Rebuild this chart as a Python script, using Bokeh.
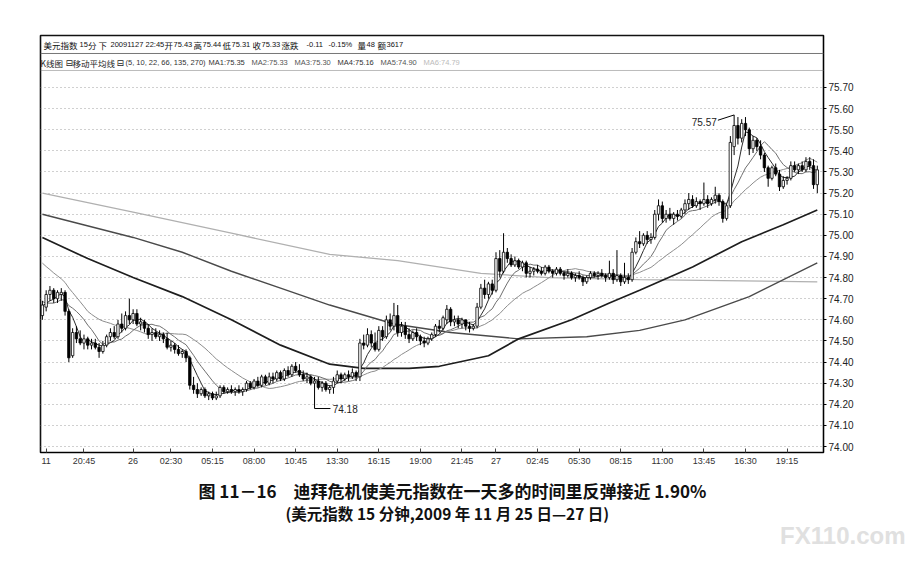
import pandas as pd
from bokeh.plotting import figure
from bokeh.models import Range1d, FixedTicker, Label, Span, ColumnDataSource, NumeralTickFormatter, Title
from bokeh.embed import file_html
from bokeh.resources import INLINE

# ---- 15-minute bars, 2009-11-25 18:00 .. 2009-11-27 ----
opens = [
 74.62,74.66,74.72,74.74,74.70,74.72,74.73,74.64,74.43,74.54,
 74.51,74.49,74.51,74.48,74.49,74.47,74.45,74.48,74.52,74.54,
 74.52,74.58,74.56,74.62,74.60,74.63,74.58,74.59,74.56,74.53,
 74.54,74.52,74.53,74.51,74.47,74.48,74.46,74.44,74.45,74.42,
 74.29,74.27,74.25,74.27,74.24,74.25,74.23,74.24,74.28,74.26,
 74.27,74.26,74.27,74.26,74.27,74.30,74.28,74.31,74.29,74.33,
 74.30,74.33,74.32,74.35,74.32,74.36,74.34,74.38,74.36,74.34,
 74.32,74.33,74.30,74.31,74.28,74.30,74.27,74.28,74.31,74.34,
 74.32,74.34,74.33,74.35,74.33,74.49,74.48,74.53,74.49,74.46,
 74.55,74.52,74.60,74.57,74.62,74.54,74.57,74.53,74.51,74.54,
 74.52,74.50,74.49,74.51,74.53,74.57,74.56,74.60,74.65,74.59,
 74.60,74.58,74.60,74.57,74.56,74.57,74.66,74.75,74.72,74.77,
 74.74,74.89,74.83,74.92,74.89,74.86,74.88,74.85,74.87,74.82,
 74.83,74.84,74.83,74.82,74.85,74.83,74.82,74.84,74.82,74.81,
 74.82,74.80,74.81,74.80,74.78,74.80,74.82,74.81,74.82,74.81,
 74.80,74.82,74.79,74.81,74.78,74.80,74.79,74.92,74.97,74.96,
 75.00,74.98,74.99,75.10,75.14,75.08,75.10,75.08,75.10,75.09,
 75.12,75.15,75.17,75.14,75.16,75.15,75.17,75.15,75.17,75.19,
 75.16,75.08,75.14,75.42,75.52,75.46,75.53,75.50,75.41,75.45,
 75.42,75.38,75.32,75.27,75.32,75.29,75.23,75.26,75.27,75.33,
 75.31,75.33,75.31,75.35,75.33,75.24]
highs = [
 74.69,74.74,74.76,74.75,74.74,74.75,74.74,74.65,74.56,74.57,
 74.55,74.53,74.52,74.51,74.51,74.49,74.50,74.53,74.56,74.57,
 74.60,74.63,74.64,74.70,74.65,74.65,74.61,74.60,74.58,74.56,
 74.56,74.55,74.54,74.54,74.50,74.49,74.48,74.46,74.46,74.43,
 74.33,74.30,74.28,74.28,74.26,74.26,74.26,74.29,74.29,74.28,
 74.29,74.28,74.29,74.28,74.31,74.31,74.32,74.33,74.34,74.34,
 74.35,74.35,74.36,74.36,74.37,74.38,74.39,74.40,74.39,74.36,
 74.35,74.34,74.33,74.33,74.31,74.31,74.29,74.33,74.36,74.35,
 74.35,74.36,74.37,74.36,74.51,74.53,74.56,74.55,74.54,74.57,
 74.57,74.62,74.63,74.68,74.67,74.59,74.59,74.56,74.55,74.56,
 74.53,74.52,74.52,74.54,74.58,74.60,74.62,74.67,74.66,74.62,
 74.62,74.61,74.60,74.59,74.58,74.68,74.77,74.79,74.78,74.79,
 74.92,74.93,75.01,74.94,74.91,74.90,74.89,74.88,74.88,74.85,
 74.85,74.86,74.85,74.86,74.86,74.84,74.85,74.85,74.83,74.84,
 74.83,74.82,74.83,74.81,74.81,74.83,74.83,74.83,74.84,74.82,
 74.88,74.84,74.93,74.82,74.87,74.82,74.94,74.99,75.02,75.01,
 75.02,75.01,75.12,75.17,75.16,75.12,75.13,75.11,75.12,75.13,
 75.17,75.20,75.19,75.18,75.17,75.25,75.19,75.18,75.23,75.20,
 75.17,75.15,75.47,75.57,75.56,75.55,75.56,75.51,75.47,75.46,
 75.45,75.39,75.33,75.33,75.34,75.31,75.28,75.28,75.35,75.35,
 75.34,75.35,75.37,75.37,75.36,75.33]
lows = [
 74.60,74.64,74.69,74.68,74.68,74.69,74.62,74.40,74.42,74.49,
 74.48,74.46,74.46,74.46,74.46,74.42,74.44,74.47,74.50,74.51,
 74.51,74.54,74.55,74.58,74.58,74.57,74.55,74.54,74.51,74.50,
 74.51,74.50,74.49,74.46,74.45,74.44,74.43,74.42,74.40,74.27,
 74.25,74.23,74.24,74.23,74.22,74.22,74.22,74.23,74.25,74.25,
 74.25,74.24,74.25,74.24,74.26,74.27,74.27,74.28,74.28,74.29,
 74.29,74.30,74.31,74.31,74.31,74.33,74.33,74.35,74.33,74.31,
 74.30,74.29,74.18,74.27,74.26,74.26,74.25,74.25,74.30,74.30,
 74.31,74.31,74.32,74.31,74.31,74.46,74.47,74.47,74.45,74.45,
 74.50,74.51,74.55,74.55,74.52,74.52,74.51,74.49,74.50,74.50,
 74.48,74.47,74.48,74.50,74.52,74.54,74.55,74.58,74.57,74.57,
 74.56,74.56,74.55,74.54,74.55,74.56,74.65,74.70,74.70,74.72,
 74.73,74.80,74.82,74.87,74.85,74.85,74.84,74.83,74.80,74.80,
 74.81,74.82,74.81,74.81,74.82,74.80,74.81,74.81,74.79,74.80,
 74.79,74.78,74.79,74.76,74.77,74.79,74.80,74.79,74.80,74.78,
 74.79,74.77,74.78,74.76,74.77,74.77,74.78,74.91,74.94,74.95,
 74.96,74.96,74.98,75.07,75.06,75.06,75.07,75.05,75.07,75.08,
 75.10,75.12,75.13,75.13,75.12,75.14,75.13,75.14,75.15,75.14,
 75.06,75.07,75.13,75.38,75.43,75.44,75.47,75.38,75.39,75.40,
 75.36,75.30,75.23,75.26,75.28,75.21,75.22,75.24,75.26,75.30,
 75.29,75.30,75.30,75.31,75.22,75.20]
closes = [
 74.67,74.72,74.74,74.70,74.73,74.73,74.64,74.42,74.54,74.51,
 74.49,74.51,74.48,74.49,74.47,74.45,74.48,74.52,74.54,74.52,
 74.58,74.56,74.62,74.60,74.63,74.58,74.59,74.56,74.53,74.54,
 74.52,74.53,74.51,74.47,74.48,74.46,74.44,74.45,74.42,74.29,
 74.27,74.25,74.27,74.24,74.25,74.23,74.24,74.28,74.26,74.27,
 74.26,74.27,74.26,74.27,74.30,74.28,74.31,74.29,74.33,74.30,
 74.33,74.32,74.35,74.32,74.36,74.34,74.38,74.36,74.34,74.32,
 74.33,74.30,74.31,74.28,74.30,74.27,74.28,74.31,74.34,74.32,
 74.34,74.33,74.35,74.33,74.49,74.48,74.53,74.49,74.46,74.55,
 74.52,74.60,74.57,74.62,74.54,74.57,74.53,74.51,74.54,74.52,
 74.50,74.49,74.51,74.53,74.57,74.56,74.61,74.65,74.59,74.60,
 74.58,74.60,74.57,74.56,74.57,74.66,74.75,74.72,74.77,74.74,
 74.89,74.83,74.92,74.89,74.86,74.88,74.85,74.87,74.82,74.83,
 74.84,74.83,74.82,74.85,74.83,74.82,74.84,74.82,74.81,74.82,
 74.80,74.81,74.80,74.78,74.80,74.82,74.81,74.82,74.81,74.80,
 74.82,74.79,74.81,74.78,74.80,74.79,74.92,74.97,74.96,75.00,
 74.98,74.99,75.10,75.14,75.08,75.10,75.08,75.10,75.09,75.12,
 75.15,75.17,75.14,75.16,75.15,75.17,75.15,75.17,75.19,75.16,
 75.08,75.14,75.44,75.52,75.46,75.53,75.50,75.41,75.45,75.42,
 75.38,75.32,75.27,75.32,75.29,75.23,75.26,75.27,75.33,75.31,
 75.33,75.31,75.35,75.33,75.24,75.31]
# closes before the first visible bar (needed for the short moving averages)
prior_closes = [75.08,75.06,75.05,75.03,75.04,75.02,75.00,75.01,74.99,74.97,
                75.00,74.99,74.80,74.74,74.70,74.66,74.64,74.66,74.68,74.66,74.66]

# long moving averages (bar index, value)
ma66_idx = [0, 12, 24, 37, 50, 63, 76, 85, 97, 105, 118, 126, 140, 150, 158, 172, 185, 196, 205]
ma66_val = [74.99, 74.89, 74.80, 74.71, 74.60, 74.48, 74.39, 74.37, 74.37, 74.38, 74.43, 74.51,
            74.60, 74.68, 74.74, 74.85, 74.97, 75.05, 75.12]
ma135_idx = [0, 24, 37, 50, 63, 76, 93, 108, 126, 144, 158, 170, 187, 205]
ma135_val = [75.10, 74.99, 74.92, 74.83, 74.75, 74.67, 74.58, 74.54, 74.51, 74.52, 74.55,
             74.60, 74.71, 74.87]
ma270_idx = [0, 24, 50, 76, 94, 116, 134, 158, 205]
ma270_val = [75.20, 75.11, 75.01, 74.91, 74.88, 74.82, 74.80, 74.79, 74.78]

tick_idx = [1, 11, 24, 34, 45, 56, 67, 78, 89, 100, 111, 120, 131, 142, 153, 164, 175, 186, 197]
tick_lab = ["11", "20:45", "26", "02:30", "05:15", "08:00", "10:45", "13:30", "16:15", "19:00",
            "21:45", "27", "02:45", "05:30", "08:15", "11:00", "13:45", "16:30", "19:15"]
price_ticks = [74.0, 74.1, 74.2, 74.3, 74.4, 74.5, 74.6, 74.7, 74.8, 74.9,
               75.0, 75.1, 75.2, 75.3, 75.4, 75.5, 75.6, 75.7]

header1 = [("美元指数", 43, "cjk"), ("15", 79, "num"), ("分", 87.5, "cjk"), ("下", 98, "cjk"),
           ("20091127", 110, "num"), ("22:45", 145, "num"), ("开", 164, "cjk"), ("75.43", 173, "num"),
           ("高", 193, "cjk"), ("75.44", 202, "num"), ("低", 222, "cjk"), ("75.31", 231, "num"),
           ("收", 252, "cjk"), ("75.33", 261, "num"), ("涨跌", 281, "cjk"), ("-0.11", 306, "num"),
           ("-0.15%", 328, "num"), ("量", 357, "cjk"), ("48", 366, "num"), ("额", 377, "cjk"),
           ("3617", 386, "num")]
header2 = [("K线图", 40, "cjk", "#222222"), ("⊟", 65, "sym", "#222222"), ("移动平均线", 72, "cjk", "#222222"),
           ("⊟", 116, "sym", "#222222"), ("(5, 10, 22, 66, 135, 270)", 125, "num", "#333333"),
           ("MA1:75.35", 208, "num", "#333333"), ("MA2:75.33", 251, "num", "#555555"),
           ("MA3:75.30", 294, "num", "#555555"), ("MA4:75.16", 337, "num", "#333333"),
           ("MA5:74.90", 380, "num", "#555555"), ("MA6:74.79", 423, "num", "#bbbbbb")]
caption1 = "图 11－16　迪拜危机使美元指数在一天多的时间里反弹接近 1.90%"
caption2 = "(美元指数 15 分钟,2009 年 11 月 25 日—27 日)"
watermark = "FX110.com"

# ---- derived series ----
N = len(closes)
idx = list(range(N))
series = pd.Series(prior_closes + closes)
ma5 = series.rolling(5).mean().iloc[-N:].tolist()
ma10 = series.rolling(10).mean().iloc[-N:].tolist()
ma22 = series.rolling(22).mean().iloc[-N:].tolist()

src = ColumnDataSource(dict(
    x=idx, o=opens, h=highs, l=lows, c=closes,
    top=[max(a, b) for a, b in zip(opens, closes)],
    bot=[min(a, b) for a, b in zip(opens, closes)],
    fill=["white" if c >= o else "black" for o, c in zip(opens, closes)],
))

# frame: picture x 40..823, y 35..452 ; price 75.70 at y=87, 0.10 per 21.12 px
W, H = 915, 561
FL, FB = 40, 452
p = figure(width=W, height=H, output_backend="svg", toolbar_location=None,
           x_range=Range1d(-0.5, 206.64), y_range=Range1d(73.9718, 75.9462),
           y_axis_location="right", min_border_left=40, min_border_right=W - 823,
           min_border_top=35, min_border_bottom=H - 452)
p.background_fill_color = "white"
p.border_fill_color = "white"
p.outline_line_color = "#111111"
p.outline_line_width = 1.6

p.xaxis.ticker = FixedTicker(ticks=tick_idx)
p.xaxis.major_label_overrides = {i: s for i, s in zip(tick_idx, tick_lab)}
p.xaxis.major_tick_in = 4
p.xaxis.major_tick_out = 0
p.xaxis.minor_tick_line_color = None
p.xaxis.axis_line_color = "black"
p.xaxis.major_tick_line_color = "#444444"
p.xaxis.major_label_text_font = "Liberation Sans"
p.xaxis.major_label_text_font_size = "9px"
p.xaxis.major_label_text_color = "#333333"
p.xaxis.major_label_standoff = 3

p.yaxis.ticker = FixedTicker(ticks=price_ticks)
p.yaxis.formatter = NumeralTickFormatter(format="0.00")
p.yaxis.major_tick_in = 0
p.yaxis.major_tick_out = 3
p.yaxis.minor_tick_line_color = None
p.yaxis.axis_line_color = "black"
p.yaxis.major_label_text_font = "Liberation Sans"
p.yaxis.major_label_text_font_size = "10px"
p.yaxis.major_label_text_color = "#222222"
p.yaxis.major_label_standoff = 2

p.xgrid.visible = False
p.ygrid.grid_line_color = "#a0a0a0"
p.ygrid.grid_line_dash = "1 3"
p.ygrid.grid_line_width = 1

# header row separator and dotted chart top
p.add_layout(Span(location=75.861, dimension="width", line_color="#777777", line_width=1))
p.add_layout(Span(location=75.7805, dimension="width", line_color="#777777",
                  line_dash="1 1", line_width=1))

# moving averages
p.line(ma270_idx, ma270_val, line_color="#b0b0b0", line_width=1.3)
p.line(ma135_idx, ma135_val, line_color="#4a4a4a", line_width=1.4)
p.line(ma66_idx, ma66_val, line_color="#1e1e1e", line_width=1.7)
p.line(idx, ma22, line_color="#8c8c8c", line_width=1)
p.line(idx, ma10, line_color="#6e6e6e", line_width=1)
p.line(idx, ma5, line_color="#2e2e2e", line_width=1)

# candles
p.segment(x0="x", y0="l", x1="x", y1="h", source=src, line_color="black", line_width=1)
p.vbar(x="x", width=0.64, top="top", bottom="bot", fill_color="fill",
       line_color="black", line_width=0.8, source=src)

# high / low markers
imax = max(idx, key=lambda i: highs[i])
imin = min(idx, key=lambda i: lows[i])
p.line([imax - 4.3, imax], [highs[imax] - 0.025, highs[imax]], line_color="black", line_width=1)
p.add_layout(Label(x=imax - 4.6, y=highs[imax] - 0.035, text=f"{highs[imax]:.2f}",
                   text_align="right", text_baseline="middle", text_font="Liberation Sans",
                   text_font_size="10px", text_color="#222222"))
p.line([imin, imin + 4.2], [lows[imin], lows[imin]], line_color="black", line_width=1)
p.add_layout(Label(x=imin + 4.8, y=lows[imin], text=f"{lows[imin]:.2f}",
                   text_align="left", text_baseline="middle", text_font="Liberation Sans",
                   text_font_size="10px", text_color="#222222"))

FONTS = {"cjk": ("Noto Sans CJK SC", "8.5px"), "num": ("Liberation Sans", "7.5px"),
         "sym": ("DejaVu Sans", "9px")}

def put(text, X, Y, kind, color):
    font, size = FONTS[kind]
    p.add_layout(Label(x=X - FL, y=FB - Y, x_units="screen", y_units="screen", text=text,
                       text_font=font, text_font_size=size, text_color=color,
                       text_align="left", text_baseline="middle"))

for t, X, k in header1:
    put(t, X, 44, k, "#111111")
for t, X, k, col in header2:
    put(t, X, 62, k, col)

# ---- captions and watermark, stacked under the time axis ----
p.add_layout(Title(text=caption1, align="left", offset=158, standoff=15,
                   text_font="Noto Sans CJK SC", text_font_size="17px", text_font_style="bold",
                   text_color="#111111"), "below")
p.add_layout(Title(text=caption2, align="left", offset=245, standoff=-26,
                   text_font="Noto Sans CJK SC", text_font_size="15.5px", text_font_style="bold",
                   text_color="#111111"), "below")
p.add_layout(Title(text=watermark, align="right", offset=-82, standoff=19,
                   text_font="Liberation Sans", text_font_size="24px", text_font_style="bold",
                   text_color="#e0e0e0"), "below")

open("out.html", "w").write(file_html(p, INLINE))
